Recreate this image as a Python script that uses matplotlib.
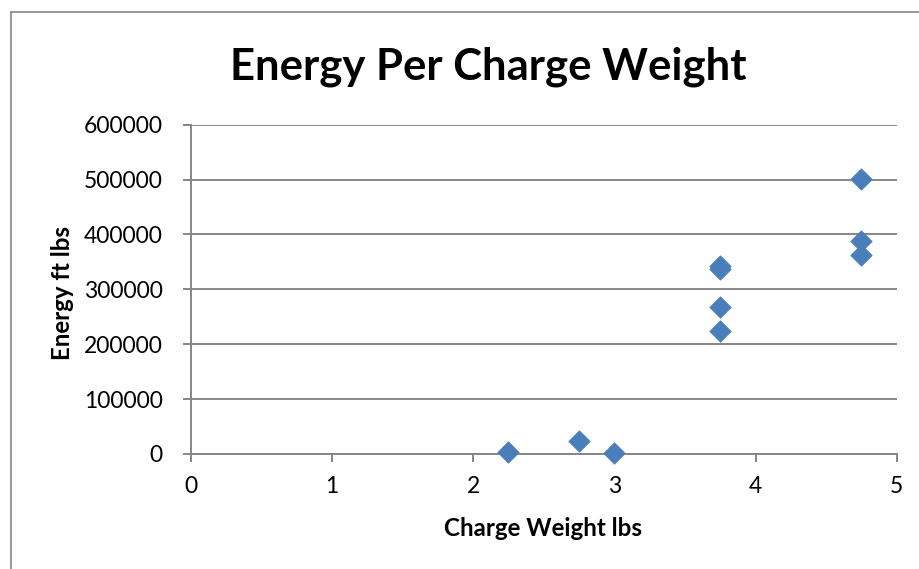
import matplotlib
matplotlib.use("Agg")
import matplotlib.pyplot as plt
from matplotlib.lines import Line2D

charge_weight = [2.25, 2.75, 3.0, 3.75, 3.75, 3.75, 3.75, 4.75, 4.75, 4.75]
energy = [3000, 24000, 1000, 342000, 337000, 268000, 225000, 501000, 389000, 362000]
x_ticks = [0, 1, 2, 3, 4, 5]
y_ticks = [0, 100000, 200000, 300000, 400000, 500000, 600000]

plt.rcParams['font.family'] = ['Lato', 'DejaVu Sans']
W, H = 919, 569
fig = plt.figure(figsize=(W / 100, H / 100), dpi=100)

# chart area border (left and top visible)
fig.add_artist(Line2D([11 / W, 11 / W], [0, 1 - 12 / H], transform=fig.transFigure, color='#868686', lw=1.2))
fig.add_artist(Line2D([11 / W, 1], [1 - 12 / H, 1 - 12 / H], transform=fig.transFigure, color='#868686', lw=1.2))

left, right = 190.7 / W, 896.7 / W
top, bottom = 1 - 124.7 / H, 1 - 454 / H
ax = fig.add_axes([left, bottom, right - left, top - bottom])

grid_c = '#868686'
ax.set_xlim(0, 5)
ax.set_ylim(0, 600000)
ax.set_xticks(x_ticks)
ax.set_yticks(y_ticks)
ax.set_xticklabels([str(v) for v in x_ticks])
ax.set_yticklabels([str(v) for v in y_ticks])
ax.yaxis.grid(True, color=grid_c, lw=1.4)
ax.set_axisbelow(True)
for s in ['top', 'right']:
    ax.spines[s].set_visible(False)
for s in ['left', 'bottom']:
    ax.spines[s].set_color(grid_c)
    ax.spines[s].set_linewidth(1.4)
ax.tick_params(axis='both', direction='out', length=6, width=1.4, color=grid_c, labelsize=16.5, labelcolor='black')
ax.tick_params(axis='x', pad=10)
ax.tick_params(axis='y', pad=14)

ax.scatter(charge_weight, energy, marker='D', s=120, color='#4a7ebb', edgecolors='#4a7ebb', linewidths=0.5, zorder=3, clip_on=False)

fig.text(488 / W, 1 - 67 / H, 'Energy Per Charge Weight', ha='center', va='center', fontsize=31.4, fontweight='bold')
fig.text(543 / W, 1 - 529 / H, 'Charge Weight lbs', ha='center', va='center', fontsize=17.4, fontweight='bold')
fig.text(62 / W, 1 - 293 / H, 'Energy ft lbs', ha='center', va='center', rotation=90, fontsize=17.3, fontweight='bold')

fig.savefig('out.png', dpi=100)
